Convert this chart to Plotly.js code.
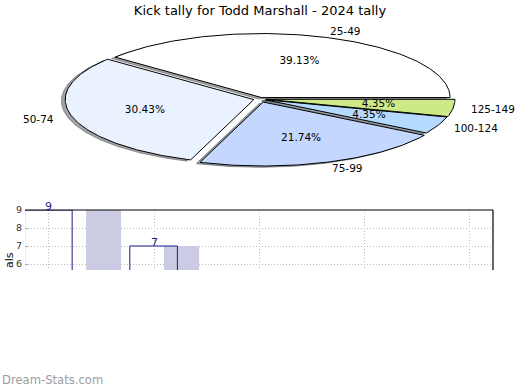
<!DOCTYPE html>
<html><head><meta charset="utf-8">
<script src="https://cdn.plot.ly/plotly-3.0.1.min.js"></script>
<style>html,body{margin:0;padding:0;background:#fff}</style>
</head><body><div id="chart" style="width:520px;height:390px"></div>
<script>
// ---- data ----
const categories = ['25-49', '50-74', '75-99', '100-124', '125-149'];
const kickCounts = [9, 7, 5, 1, 1];
const barCategoryIndex = [0, 1, 2, 3, 4];
const yTickValues = [6, 7, 8, 9];
const chartTitle = 'Kick tally for Todd Marshall - 2024 tally';

// ---- style ----
const sliceColors = ['#ffffff', '#ebf2ff', '#c4d8ff', '#b4dbff', '#cdea87'];
const explode = [0.024, 0.034, 0.05, 0.03, 0.034];
const FONT = 'DejaVu Sans, Verdana, sans-serif';
const PIE = {cx: 260, cy: 99, rx: 188.6, ry: 64};
const SHADOW = {ox: -0.02, oy: -0.02};
const navy = '#1a1a8e';

function hexToRgb(h) {
  const n = parseInt(h.slice(1), 16);
  return [(n >> 16) & 255, (n >> 8) & 255, n & 255];
}

const total = kickCounts.reduce((a, b) => a + b, 0);
const shadowTraces = [], sliceTraces = [];
const pctX = [], pctY = [], pctText = [];
const annotations = [];
let cum = 0;
kickCounts.forEach((v, i) => {
  const a0 = 360 * cum / total, a1 = 360 * (cum + v) / total;
  cum += v;
  const mid = (a0 + a1) / 2 * Math.PI / 180;
  const dx = explode[i] * PIE.rx * Math.cos(mid);
  const dy = -explode[i] * PIE.ry * Math.sin(mid);
  const cx = PIE.cx + dx, cy = PIE.cy + dy;
  const xs = [cx], ys = [cy];
  const steps = Math.max(4, Math.ceil(a1 - a0));
  for (let k = 0; k <= steps; k++) {
    const t = (a0 + (a1 - a0) * k / steps) * Math.PI / 180;
    xs.push(cx + PIE.rx * Math.cos(t));
    ys.push(cy - PIE.ry * Math.sin(t));
  }
  xs.push(cx); ys.push(cy);
  const rgb = hexToRgb(sliceColors[i]);
  const sc = 'rgba(' + rgb.map(c => Math.round(c * 0.3)).join(',') + ',0.5)';
  shadowTraces.push({
    type: 'scatter', mode: 'lines', xaxis: 'x', yaxis: 'y',
    x: xs.map(x => x + SHADOW.ox * PIE.rx), y: ys.map(y => y - SHADOW.oy * PIE.ry),
    fill: 'toself', fillcolor: sc, line: {color: sc, width: 1}, hoverinfo: 'skip'
  });
  sliceTraces.push({
    type: 'scatter', mode: 'lines', xaxis: 'x', yaxis: 'y',
    x: xs, y: ys, fill: 'toself', fillcolor: sliceColors[i],
    line: {color: '#000000', width: 1}, hoverinfo: 'skip'
  });
  pctX.push(cx + 0.6 * PIE.rx * Math.cos(mid));
  pctY.push(cy - 0.6 * PIE.ry * Math.sin(mid));
  pctText.push((100 * v / total).toFixed(2) + '%');
  annotations.push({
    xref: 'x', yref: 'y',
    x: cx + 1.1 * PIE.rx * Math.cos(mid), y: cy - 1.1 * PIE.ry * Math.sin(mid),
    text: categories[i], showarrow: false,
    xanchor: Math.cos(mid) >= 0 ? 'left' : 'right', yanchor: 'middle',
    xshift: Math.cos(mid) >= 0 ? -2 : 1,
    borderpad: 0, font: {family: FONT, size: 10.5, color: '#000'}
  });
});

const pctTrace = {
  type: 'scatter', mode: 'text', xaxis: 'x', yaxis: 'y',
  x: pctX, y: pctY, text: pctText, textposition: 'middle center',
  textfont: {family: FONT, size: 10.5, color: '#000'}, hoverinfo: 'skip'
};

const yMin = 5.667, yMax = 9;
const shadedBars = {
  type: 'bar', xaxis: 'x2', yaxis: 'y2',
  x: barCategoryIndex, y: kickCounts,
  width: 0.333, offset: [0.352, 0.093, 0.093, 0.093, 0.093],
  marker: {color: '#cbcbe3', line: {width: 0}}, hoverinfo: 'skip'
};
const outlineBars = {
  type: 'bar', xaxis: 'x2', yaxis: 'y2',
  x: barCategoryIndex, y: kickCounts,
  width: 0.452, offset: -0.232,
  marker: {color: 'rgba(0,0,0,0)', line: {color: navy, width: 1}}, hoverinfo: 'skip'
};
kickCounts.forEach((v, i) => {
  if (v >= yMin && v <= yMax) {
    annotations.push({
      xref: 'x2', yref: 'y2', x: barCategoryIndex[i], y: v,
      text: String(v), showarrow: false, yanchor: 'bottom', yshift: -5,
      font: {family: FONT, size: 11, color: navy}
    });
  }
});

annotations.push({
  xref: 'paper', yref: 'paper', x: 9 / 520, y: 1 - 260 / 390,
  text: 'als', textangle: -90, showarrow: false,
  xanchor: 'center', yanchor: 'middle', font: {family: FONT, size: 11, color: '#000'}
});
annotations.push({
  xref: 'paper', yref: 'paper', x: 0, y: 1 - 380 / 390,
  text: 'Dream-Stats.com', showarrow: false,
  xanchor: 'left', yanchor: 'middle', font: {family: FONT, size: 11.6, color: '#9d9d9d'}
});

const gridStyle = {showgrid: true, gridcolor: '#bdbdbd', griddash: '1px,2px', gridwidth: 1};
const layout = {
  width: 520, height: 390,
  margin: {l: 0, r: 0, t: 0, b: 0},
  paper_bgcolor: '#fff', plot_bgcolor: 'rgba(0,0,0,0)',
  showlegend: false, hovermode: false,
  barmode: 'overlay',
  title: {text: chartTitle, font: {family: FONT, size: 13, color: '#000'},
          x: 0.5, xanchor: 'center', y: 1 - 10 / 390, yanchor: 'middle', yref: 'paper'},
  xaxis: {domain: [0, 1], range: [0, 520], visible: false, fixedrange: true},
  yaxis: {domain: [0, 1], range: [390, 0], visible: false, fixedrange: true},
  xaxis2: Object.assign({domain: [25 / 520, 493 / 520], range: [-0.228, 4.219], anchor: 'y2',
           tickvals: barCategoryIndex, showticklabels: false, ticks: '',
           zeroline: false, showline: false}, gridStyle),
  yaxis2: Object.assign({domain: [1 - 270 / 390, 1 - 210 / 390], range: [yMin, yMax], anchor: 'x2',
           tickvals: yTickValues, ticks: 'inside', ticklen: 3, tickcolor: '#aaaaaa',
           ticklabelstandoff: 2,
           tickfont: {family: FONT, size: 9.5, color: '#333'},
           zeroline: false, showline: false}, gridStyle),
  shapes: [
    {type: 'line', xref: 'x2 domain', yref: 'y2 domain', x0: 0, x1: 1, y0: 1, y1: 1,
     line: {color: '#000', width: 1.2}},
    {type: 'line', xref: 'x2 domain', yref: 'y2 domain', x0: 1, x1: 1, y0: 0, y1: 1,
     line: {color: '#000', width: 1.2}}
  ],
  annotations: annotations
};

Plotly.newPlot('chart', [...shadowTraces, ...sliceTraces, pctTrace, shadedBars, outlineBars],
  layout, {staticPlot: true, displayModeBar: false});
</script></body></html>
